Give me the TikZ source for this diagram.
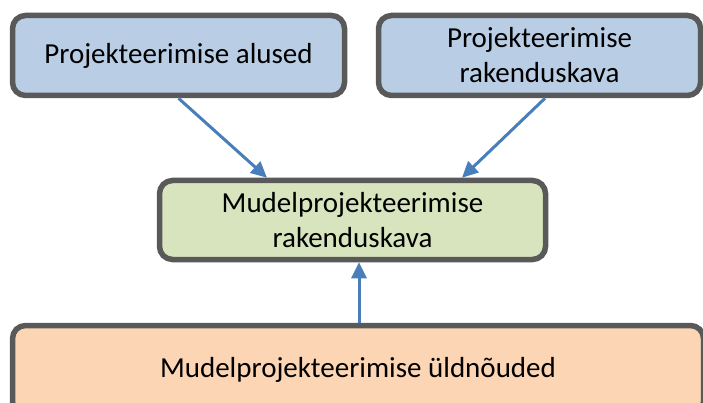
\documentclass[tikz,border=0pt]{standalone}
\usepackage{fontspec}
\setmainfont{Carlito}
\usetikzlibrary{arrows.meta}
\definecolor{edgegray}{HTML}{595959}
\definecolor{bluefill}{HTML}{B9CDE5}
\definecolor{greenfill}{HTML}{D7E4BD}
\definecolor{orangefill}{HTML}{FCD5B5}
\definecolor{arrowblue}{HTML}{4A7EBB}
\begin{document}
\begin{tikzpicture}[x=1pt,y=-1pt,
  box/.style={draw=edgegray, line width=5.5pt, rounded corners=13pt,
    inner sep=0pt, align=center,
    font=\fontsize{29}{35}\selectfont},
  arr/.style={draw=arrowblue, line width=3pt,
    -{Triangle[length=16pt,width=15pt]}}]
  \useasboundingbox (0,0) rectangle (703,403);
  \begin{scope}
    \clip (0,0) rectangle (703,403);
    % input boxes
    \node[box, fill=bluefill, minimum width=332pt, minimum height=80pt]
      (base) at (178.5,55.5) {Projekteerimise alused};
    \node[box, fill=bluefill, minimum width=322pt, minimum height=80pt]
      (plan) at (539.5,55.5) {Projekteerimise\\rakenduskava};
    % result box
    \node[box, fill=greenfill, minimum width=386pt, minimum height=79pt]
      (model) at (352.5,220) {Mudelprojekteerimise\\rakenduskava};
    % general requirements
    \node[box, fill=orangefill, minimum width=691pt, minimum height=89pt]
      (req) at (358,370) {Mudelprojekteerimise üldnõuded};
    % connectors
    \draw[arr] (base.south) -- ([xshift=-85.5pt]model.north);
    \draw[arr] ([xshift=5.5pt]plan.south) -- ([xshift=109.5pt]model.north);
    \draw[arr] ([xshift=6.5pt]model.south |- req.north) -- ([xshift=6.5pt]model.south);
  \end{scope}
\end{tikzpicture}
\end{document}
